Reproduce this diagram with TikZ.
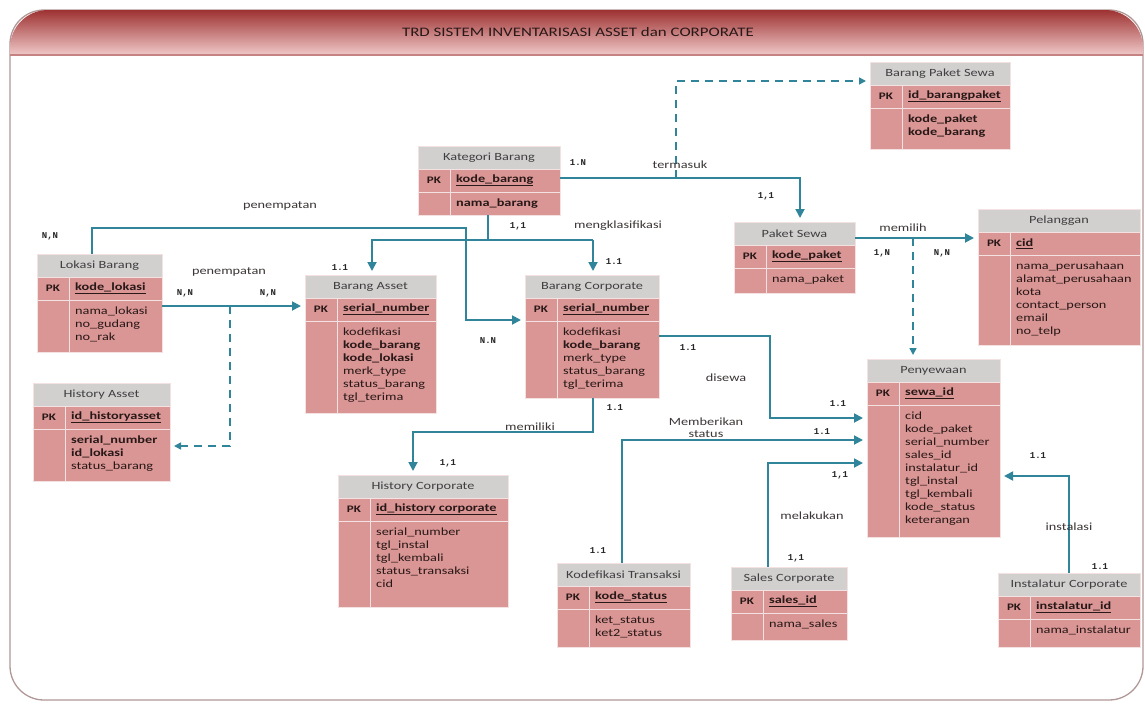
\documentclass[tikz,border=0pt]{standalone}
\usepackage{fontspec}
\setmainfont{Carlito}[FakeStretch=1.3]
\newfontfamily\cardfont{Liberation Mono}
\usetikzlibrary{arrows.meta}

\definecolor{cellpink}{RGB}{218,150,148}
\definecolor{hdrgray}{RGB}{210,207,207}
\definecolor{sepline}{RGB}{244,226,226}
\definecolor{relteal}{RGB}{49,133,155}
\definecolor{txtdark}{RGB}{40,24,24}
\definecolor{hdrtxt}{RGB}{64,64,64}
\definecolor{lbltxt}{RGB}{60,54,54}
\definecolor{bandtop}{RGB}{158,50,50}
\definecolor{bandbot}{RGB}{240,200,200}
\definecolor{bandline}{RGB}{196,130,130}
\definecolor{frameln}{RGB}{176,152,152}

\tikzset{
  cell/.style={inner sep=0pt, outer sep=0pt, draw=sepline, line width=1pt},
  tablebox/.style={inner sep=0pt, outer sep=0pt},
  hcell/.style={cell, fill=hdrgray, minimum height=23, text=hdrtxt,
    font=\fontsize{11}{13}\selectfont},
  pkcell/.style={cell, fill=cellpink, minimum width=32, minimum height=23,
    text=txtdark, font=\fontsize{10}{12}\selectfont\bfseries},
  rowcell/.style={cell, fill=cellpink},
  keytext/.style={inner sep=0pt, text=txtdark, font=\fontsize{11}{13}\selectfont\bfseries},
  atttext/.style={inner sep=0pt, align=left, text=txtdark, font=\fontsize{11}{13}\selectfont},
  card/.style={inner sep=1pt, text=black!85, font=\cardfont\fontsize{9}{10}\selectfont\bfseries},
  rlabel/.style={inner sep=1pt, text=lbltxt, font=\fontsize{11}{13}\selectfont, align=center},
  rel/.style={draw=relteal, line width=1.8pt, -{Triangle[length=9pt,width=9pt]}, shorten >=4pt},
  reld/.style={draw=relteal, line width=1.5pt, dash pattern=on 8pt off 6pt,
    -{Triangle[length=7pt,width=7pt]}, shorten >=4pt},
  relline/.style={draw=relteal, line width=1.8pt},
}

% one entity table: name, x, y, width, height of attribute area, title, key, attributes
\newcommand{\ertable}[8]{%
  \pgfmathsetmacro{\tbh}{46+#5}%
  \pgfmathsetmacro{\tbw}{#4-32}%
  \node[tablebox, minimum width=#4, minimum height=\tbh, anchor=north west] (#1) at (#2,#3) {};
  \node[hcell, minimum width=#4, anchor=north west] (#1-h) at (#2,#3) {#6};
  \node[pkcell, anchor=north west] (#1-k) at (#1-h.south west) {PK};
  \node[rowcell, minimum width=\tbw, minimum height=23, anchor=north west] (#1-p) at (#1-k.north east) {};
  \node[keytext, anchor=west] (#1-pt) at ([xshift=6pt]#1-p.west) {\underline{#7}};
  \node[rowcell, minimum width=32, minimum height=#5, anchor=north west] (#1-s) at (#1-k.south west) {};
  \node[rowcell, minimum width=\tbw, minimum height=#5, anchor=north west] (#1-a) at (#1-s.north east) {};
  \node[atttext, anchor=north west] (#1-at) at ([xshift=6pt,yshift=-7pt]#1-a.north west) {#8};
}

\begin{document}
\begin{tikzpicture}[x=1pt,y=-1pt]
\useasboundingbox (0,0) rectangle (1145,704);
\fill[white] (0,0) rectangle (1145,704);

% frame and title band
\draw[frameln, line width=1.3pt, rounded corners=34pt] (10,10) rectangle (1143,700);
\shade[top color=bandtop, bottom color=bandbot]
  (10,55) [rounded corners=38pt] -- (10,10) -- (1143,10) [sharp corners] -- (1143,55) -- cycle;
\draw[bandline, line width=2pt] (10,55) -- (1143,55);
\node[text=txtdark, font=\fontsize{13}{15}\selectfont] (ttl) at (578,32)
  {TRD SISTEM INVENTARISASI ASSET dan CORPORATE};

% entity tables
\ertable{bps}{870}{62}{140}{41}{Barang Paket Sewa}{id\_barangpaket}
  {\textbf{kode\_paket}\\\textbf{kode\_barang}}
\ertable{kat}{418}{146}{142}{23}{Kategori Barang}{kode\_barang}
  {\textbf{nama\_barang}}
\ertable{paket}{734}{222}{121}{25}{Paket Sewa}{kode\_paket}
  {nama\_paket}
\ertable{pel}{978}{209}{162}{90}{Pelanggan}{cid}
  {nama\_perusahaan\\alamat\_perusahaan\\kota\\contact\_person\\email\\no\_telp}
\ertable{lok}{37}{254}{125}{52}{Lokasi Barang}{kode\_lokasi}
  {nama\_lokasi\\no\_gudang\\no\_rak}
\ertable{asset}{305}{275}{131}{92}{Barang Asset}{serial\_number}
  {kodefikasi\\\textbf{kode\_barang}\\\textbf{kode\_lokasi}\\merk\_type\\status\_barang\\tgl\_terima}
\ertable{corp}{525}{275}{134}{77}{Barang Corporate}{serial\_number}
  {kodefikasi\\\textbf{kode\_barang}\\merk\_type\\status\_barang\\tgl\_terima}
\ertable{hasset}{33}{383}{137}{52}{History Asset}{id\_historyasset}
  {\textbf{serial\_number}\\\textbf{id\_lokasi}\\status\_barang}
\ertable{sewa}{867}{359}{133}{132}{Penyewaan}{sewa\_id}
  {cid\\kode\_paket\\serial\_number\\sales\_id\\instalatur\_id\\tgl\_instal\\tgl\_kembali\\kode\_status\\keterangan}
\ertable{hcorp}{338}{475}{170}{86}{History Corporate}{id\_history corporate}
  {serial\_number\\tgl\_instal\\tgl\_kembali\\status\_transaksi\\cid}
\ertable{kode}{557}{563}{133}{38}{Kodefikasi Transaksi}{kode\_status}
  {ket\_status\\ket2\_status}
\ertable{sales}{731}{567}{116}{27}{Sales Corporate}{sales\_id}
  {nama\_sales}
\ertable{inst}{998}{573}{142}{28}{Instalatur Corporate}{instalatur\_id}
  {nama\_instalatur}

% bend points of the relationship lines
\coordinate (kx) at (800,178);
\coordinate (tm) at (676,178);
\coordinate (tmup) at (676,81);
\coordinate (kb) at (488,240);
\coordinate (ka) at (372,240);
\coordinate (kc) at (593,240);
\coordinate (l1) at (92,228);
\coordinate (l2) at (466,228);
\coordinate (l3) at (466,320);
\coordinate (la) at (162,306);
\coordinate (lh1) at (230,306);
\coordinate (lh2) at (230,446);
\coordinate (m1) at (855,238);
\coordinate (m2) at (913,238);
\coordinate (d1) at (770,336);
\coordinate (d2) at (770,418);
\coordinate (h1) at (593,432);
\coordinate (h2) at (413,432);
\coordinate (s1) at (622,440);
\coordinate (q1) at (768,463);
\coordinate (i1) at (1069,476);

% termasuk
\draw[rel] (kat.east |- kx) -- (kx) -- (paket.north -| kx);
\draw[reld] (tm) -- (tmup) -- (bps.west |- tmup);
% mengklasifikasi
\draw[relline] (kat.south -| kb) -- (kb);
\draw[rel] (kc) -- (ka) -- (asset.north -| ka);
\draw[rel] (kc) -- (corp.north -| kc);
% penempatan (Lokasi Barang to Barang Corporate)
\draw[rel] (lok.north -| l1) -- (l1) -- (l2) -- (l3) -- (corp.west |- l3);
% penempatan (Lokasi Barang to Barang Asset)
\draw[rel] (lok.east |- la) -- (asset.west |- la);
\draw[reld] (lh1) -- (lh2) -- (hasset.east |- lh2);
% memilih
\draw[rel] (paket.east |- m1) -- (pel.west |- m1);
\draw[reld] (m2) -- (sewa.north -| m2);
% disewa
\draw[rel] (corp.east |- d1) -- (d1) -- (d2) -- (sewa.west |- d2);
% memiliki
\draw[rel] (corp.south -| h1) -- (h1) -- (h2) -- (hcorp.north -| h2);
% memberikan status
\draw[rel] (kode.north -| s1) -- (s1) -- (sewa.west |- s1);
% melakukan
\draw[rel] (sales.north -| q1) -- (q1) -- (sewa.west |- q1);
% instalasi
\draw[rel] (inst.north -| i1) -- (i1) -- (sewa.east |- i1);

% relationship names
\node[rlabel] (r-term) at (680,165) {termasuk};
\node[rlabel] (r-kls) at (618,226) {mengklasifikasi};
\node[rlabel] (r-pen1) at (280,206) {penempatan};
\node[rlabel] (r-pen2) at (229,272) {penempatan};
\node[rlabel] (r-pil) at (903,228) {memilih};
\node[rlabel] (r-sew) at (726,378) {disewa};
\node[rlabel] (r-mil) at (530,427) {memiliki};
\node[rlabel, font=\fontsize{11}{12}\selectfont] (r-beri) at (706,428) {Memberikan\\status};
\node[rlabel] (r-laku) at (812,516) {melakukan};
\node[rlabel] (r-inst) at (1069,527) {instalasi};

% cardinalities
\node[card] (c1) at (578,163) {1.N};
\node[card] (c2) at (766,196) {1,1};
\node[card] (c3) at (518,226) {1,1};
\node[card] (c4) at (340,268) {1.1};
\node[card] (c5) at (614,262) {1.1};
\node[card] (c6) at (50,236) {N,N};
\node[card] (c7) at (185,293) {N,N};
\node[card] (c8) at (268,293) {N,N};
\node[card] (c9) at (488,341) {N.N};
\node[card] (c10) at (882,253) {1,N};
\node[card] (c11) at (942,253) {N,N};
\node[card] (c12) at (688,348) {1.1};
\node[card] (c13) at (838,404) {1.1};
\node[card] (c14) at (615,408) {1.1};
\node[card] (c15) at (448,463) {1,1};
\node[card] (c16) at (822,432) {1.1};
\node[card] (c17) at (840,475) {1,1};
\node[card] (c18) at (1038,456) {1.1};
\node[card] (c19) at (598,551) {1.1};
\node[card] (c20) at (796,558) {1,1};
\node[card] (c21) at (1100,567) {1.1};
\end{tikzpicture}
\end{document}
